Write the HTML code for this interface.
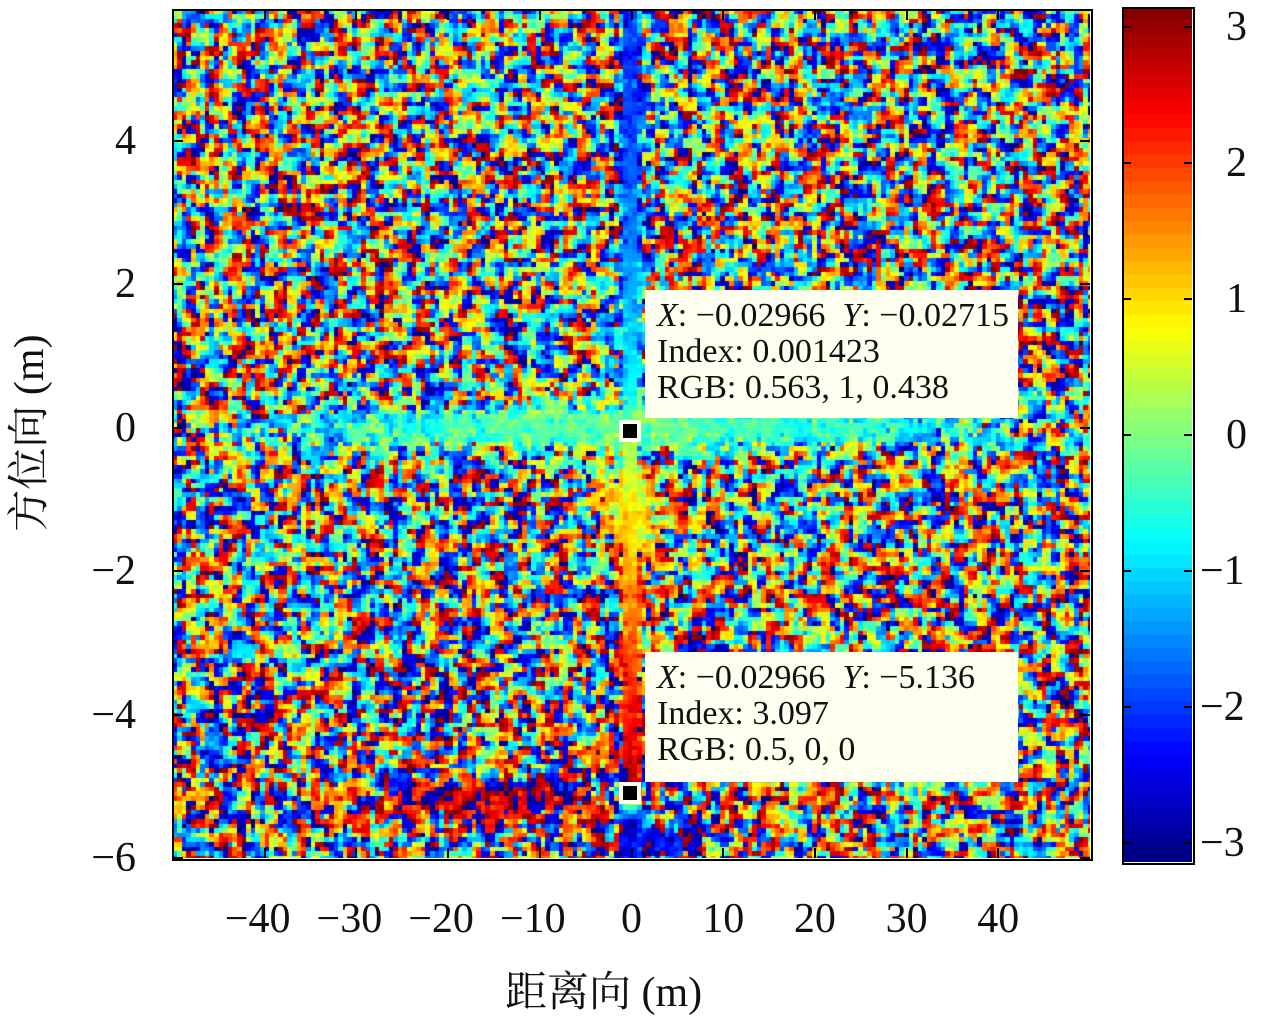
<!DOCTYPE html>
<html><head><meta charset="utf-8"><style>
body{margin:0;background:#fff;width:1280px;height:1024px;overflow:hidden;position:relative;font-family:"Liberation Serif","Noto Serif CJK SC",serif}
.t{position:absolute;font-size:42px;color:#111;line-height:1}
.tip{position:absolute;background:#fffff0;font-size:34px;line-height:36px;padding:8px 0 0 12px;box-sizing:border-box;color:#111;white-space:nowrap;overflow:visible}
.mk{position:absolute;width:14px;height:14px;background:#000;border:4px solid #fffff0}
</style></head><body>
<canvas id="hm" width="917" height="848" style="position:absolute;left:173px;top:10px"></canvas>
<div style="position:absolute;left:172px;top:9px;width:917px;height:848px;border:2px solid #000"></div>
<canvas id="cb" width="69" height="854" style="position:absolute;left:1123px;top:8px"></canvas>
<div style="position:absolute;left:1122px;top:7px;width:69px;height:854px;border:2px solid #000"></div>
<div id="ticks"></div>
<div class="t" style="left:505px;top:972px">距离向 (m)</div>
<div class="t" style="left:-80px;top:412px;transform:rotate(-90deg);width:220px;text-align:center">方位向 (m)</div>
<div class="tip" style="left:645px;top:290px;width:373px;height:128px"><i>X</i>: −0.02966 &nbsp;<i>Y</i>: −0.02715<br>Index: 0.001423<br>RGB: 0.563, 1, 0.438</div>
<div class="mk" style="left:619px;top:420px"></div>
<div class="tip" style="left:645px;top:652px;width:373px;height:130px"><i>X</i>: −0.02966 &nbsp;<i>Y</i>: −5.136<br>Index: 3.097<br>RGB: 0.5, 0, 0</div>
<div class="mk" style="left:619px;top:782px"></div>
<script>
const xTicks=[-40,-30,-20,-10,0,10,20,30,40];
const yTicks=[4,2,0,-2,-4,-6];
const cTicks=[3,2,1,0,-1,-2,-3];
// azimuth profile of phase along the range=0 strip
const stripY=[5.8,4,2,1,0.5,0,-0.5,-1,-2,-3,-4,-5,-5.5,-6];
const stripV=[-2.1,-1.9,-1.3,-1.0,-0.7,-0.1,0.4,0.8,1.3,1.8,2.3,2.9,-2.7,-2.5];
// range profile along the azimuth=0 band
const bandX=[-50,-30,-10,0,10,30,45,50];
const bandV=[-0.8,-0.6,-0.3,0.0,-0.4,-0.6,-0.8,-0.9];
const X0=-50,X1=50,Y0=-6,Y1=5.82,W=917,H=848;
const sx=x=>(x-X0)/(X1-X0)*W, sy=y=>(Y1-y)/(Y1-Y0)*H;
function jet(v){let t=(v+Math.PI)/(2*Math.PI);t=Math.max(0,Math.min(1,t));
 const f=c=>Math.max(0,Math.min(1,1.5-Math.abs(4*t-c)));return [f(3)*255,f(2)*255,f(1)*255];}
function interp(xs,vs,x){const asc=xs[1]>xs[0];
 if(asc?x<=xs[0]:x>=xs[0])return vs[0];
 for(let i=0;i<xs.length-1;i++){const a=xs[i],b=xs[i+1];if((x-a)*(x-b)<=0){const t=(x-a)/(b-a);return vs[i]+(vs[i+1]-vs[i])*t;}}
 return vs[xs.length-1];}
// deterministic speckle texture (not data): circular phase noise background
function h(i,j){let n=Math.sin(i*127.1+j*311.7)*43758.5453;return n-Math.floor(n);}
function speck(i,j){let c=0,s=0;const K=[[0,0,2],[1,0,1],[-1,0,1],[0,1,1],[0,-1,1]];
 for(const [a,b,w] of K){const p=h(i+a,j+b)*2*Math.PI;c+=w*Math.cos(p);s+=w*Math.sin(p);}return Math.atan2(s,c);}
function mixPhase(a,b,w){const c=(1-w)*Math.cos(a)+w*Math.cos(b),s=(1-w)*Math.sin(a)+w*Math.sin(b);return Math.atan2(s,c);}
const ctx=document.getElementById('hm').getContext('2d');
const cs=4.6;const nx=Math.ceil(W/cs),ny=Math.ceil(H/cs);
for(let j=0;j<ny;j++)for(let i=0;i<nx;i++){
 const x=X0+(i+0.5)*cs/W*(X1-X0),y=Y1-(j+0.5)*cs/H*(Y1-Y0);
 let v=speck(i,j);
 const sv=interp(stripY,stripV,y), bv=interp(bandX,bandV,x);
 const ws=Math.exp(-Math.pow(x/1.4,2));
 const wb=Math.exp(-Math.pow(y/0.4,2))*Math.exp(-Math.pow(x/45,4))*0.9;
 const wb2=Math.exp(-Math.pow((y+1.1)/0.8,2))*Math.exp(-Math.pow(x/5,2))*0.85;
 const bot=Math.exp(-Math.pow((y+5.2)/0.45,2))*Math.exp(-Math.pow((x+15)/20,2))*0.75;
 const bot2=Math.exp(-Math.pow((y+5.8)/0.3,2))*Math.exp(-Math.pow((x-3)/8,2))*0.8;
 const m=Math.max(ws,wb,wb2,bot,bot2);
 let tv=ws===m?sv:(wb===m?bv:(wb2===m?0.7:(bot===m?2.8:-2.6)));
 let w=Math.min(1,m*(0.7+0.4*h(i+7,j+3)));
 v=mixPhase(v,tv,w);
 const c=jet(v);ctx.fillStyle=`rgb(${c[0]|0},${c[1]|0},${c[2]|0})`;
 ctx.fillRect(Math.floor(i*cs),Math.floor(j*cs),Math.ceil(cs)+1,Math.ceil(cs)+1);}
const cb=document.getElementById('cb').getContext('2d');
for(let k=0;k<64;k++){const v=Math.PI-(k+0.5)/64*2*Math.PI;const c=jet(v);
 cb.fillStyle=`rgb(${c[0]|0},${c[1]|0},${c[2]|0})`;cb.fillRect(0,Math.floor(k*854/64),69,Math.ceil(854/64)+1);}
const T=document.getElementById('ticks');
function add(txt,l,t,name,al){const d=document.createElement('div');d.className='t';d.textContent=txt;
 
 
 d.style.left=l+'px';d.style.top=t+'px';d.style.width='110px';d.style.textAlign=al;T.appendChild(d);}
function line(l,t,w,hh,name){const d=document.createElement('div');
 
 
 d.style.cssText=`position:absolute;left:${l}px;top:${t}px;width:${w}px;height:${hh}px;background:#000`;T.appendChild(d);}
xTicks.forEach(v=>{const px=173+sx(v);add((v<0?'−':'')+Math.abs(v),px-55-(v<0?7:0),898,'x-tick-label','center');
 line(px-1,848,2,10,'x-tick');line(px-1,10,2,10,'x-tick-top');});
yTicks.forEach(v=>{const py=10+sy(v);add((v<0?'−':'')+Math.abs(v),26,py-21,'y-tick-label','right');
 line(173,py-1,10,2,'y-tick');line(1080,py-1,10,2,'y-tick-right');});
cTicks.forEach(v=>{const py=8+(Math.PI-v)/(2*Math.PI)*854;add((v<0?'−':'')+Math.abs(v),v<0?1200:1226,py-21,'colorbar-tick-label','left');
 line(1123,py-1,8,2,'colorbar-tick');line(1184,py-1,8,2,'colorbar-tick-right');});
</script>
</body></html>
